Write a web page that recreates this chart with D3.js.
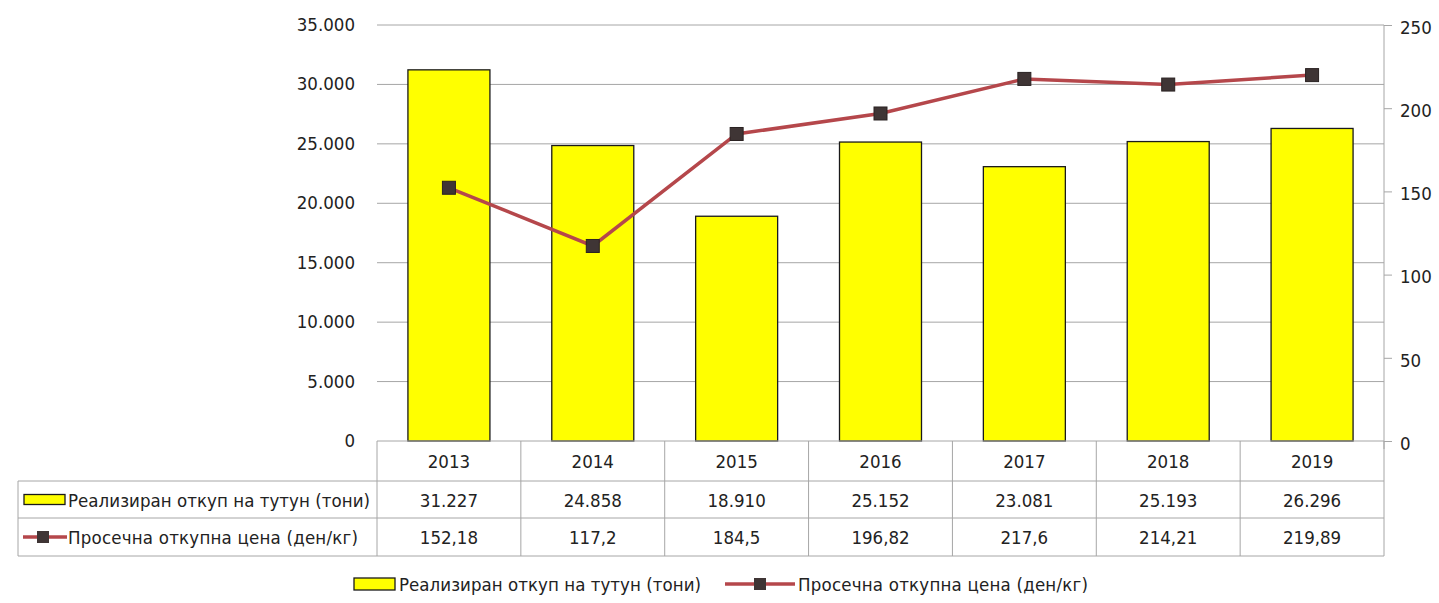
<!DOCTYPE html>
<html><head><meta charset="utf-8">
<script src="https://cdn.jsdelivr.net/npm/d3@7"></script>
<style>body{margin:0;background:#fff}svg{display:block}text{font-family:"DejaVu Sans Condensed","DejaVu Sans",sans-serif;fill:#222}</style>
</head><body>
<script>
const years = ["2013","2014","2015","2016","2017","2018","2019"];
const tonnes = [31227,24858,18910,25152,23081,25193,26296];
const prices = [152.18,117.2,184.5,196.82,217.6,214.21,219.89];
const tonnesLabels = ["31.227","24.858","18.910","25.152","23.081","25.193","26.296"];
const priceLabels = ["152,18","117,2","184,5","196,82","217,6","214,21","219,89"];
const leftTicks = [0,5000,10000,15000,20000,25000,30000,35000];
const rightTicks = [0,50,100,150,200,250];
const seriesNames = ["Реализиран откуп на тутун (тони)","Просечна откупна цена (ден/кг)"];

const W=1439,H=603;
const L=377,R=1384,T=25,B=441;
const svg=d3.select("body").append("svg").attr("width",W).attr("height",H);
const x=d3.scaleBand().domain(years).range([L,R]).paddingInner(0.43).paddingOuter(0.215);
const xc=d3.scaleBand().domain(years).range([L,R]);
const yL=d3.scaleLinear().domain([0,35000]).range([B,T]);
const yR=d3.scaleLinear().domain([0,250]).range([B,T]);
const fmt=v=>d3.format(",")(v).replace(/,/g,".");
const grid="#a6a6a6", fs=18.5;
const nameLen=[302,290];

// gridlines
svg.append("g").selectAll("line").data(leftTicks.filter(d=>d>0)).join("line")
 .attr("x1",L).attr("x2",R).attr("y1",d=>yL(d)).attr("y2",d=>yL(d)).attr("stroke",grid);
// left labels
svg.append("g").selectAll("text").data(leftTicks).join("text")
 .attr("x",355).attr("y",d=>yL(d)+6).attr("text-anchor","end").attr("font-size",fs).text(fmt);
// bars
svg.append("g").selectAll("rect").data(years).join("rect")
 .attr("x",d=>x(d)).attr("width",x.bandwidth()).attr("y",(d,i)=>yL(tonnes[i])).attr("height",(d,i)=>B-yL(tonnes[i]))
 .attr("fill","#ffff00").attr("stroke","#1a1a1a").attr("stroke-width",1.3);
// right axis
const ra=svg.append("g").attr("transform",`translate(${R},0)`).call(d3.axisRight(yR).tickValues(rightTicks).tickSize(8).tickPadding(8));
ra.select(".domain").attr("stroke",grid).attr("d",`M0,${T}V${B+8}`);
ra.selectAll(".tick line").attr("stroke",grid);
ra.selectAll(".tick text").attr("font-size",fs).attr("font-family",'"DejaVu Sans Condensed","DejaVu Sans",sans-serif').attr("fill","#222").attr("dy","0.45em");
// line
const lc="#b5474b";
svg.append("path").datum(prices).attr("fill","none").attr("stroke",lc).attr("stroke-width",3.5)
 .attr("d",d3.line().x((d,i)=>xc(years[i])+xc.bandwidth()/2).y(d=>yR(d)));
svg.append("g").selectAll("rect").data(prices).join("rect")
 .attr("x",(d,i)=>xc(years[i])+xc.bandwidth()/2-6.5).attr("y",d=>yR(d)-6.5).attr("width",13).attr("height",13)
 .attr("fill","#3f3535").attr("stroke","#2a2222");

// data table
const r0=B,r1=481,r2=518,r3=556,TL=18;
const tg=svg.append("g").attr("stroke",grid).attr("fill","none");
tg.append("line").attr("x1",L).attr("x2",R).attr("y1",r0).attr("y2",r0);
[r1,r2,r3].forEach(y=>tg.append("line").attr("x1",TL).attr("x2",R).attr("y1",y).attr("y2",y));
tg.append("line").attr("x1",TL).attr("x2",TL).attr("y1",r1).attr("y2",r3);
tg.selectAll(".v").data(years.concat(["end"])).join("line")
 .attr("x1",(d,i)=>i<years.length?xc(d):R).attr("x2",(d,i)=>i<years.length?xc(d):R).attr("y1",r0).attr("y2",r3);
const cell=(arr,yy)=>svg.append("g").selectAll("text").data(arr).join("text")
 .attr("x",(d,i)=>xc(years[i])+xc.bandwidth()/2).attr("y",yy).attr("text-anchor","middle").attr("font-size",fs).text(d=>d);
cell(years,(r0+r1)/2+7);
cell(tonnesLabels,(r1+r2)/2+7);
cell(priceLabels,(r2+r3)/2+7);
// table legend keys
svg.append("rect").attr("x",24).attr("y",(r1+r2)/2-5).attr("width",41).attr("height",10).attr("fill","#ffff00").attr("stroke","#1a1a1a").attr("stroke-width",1.3);
svg.append("text").attr("x",68).attr("y",(r1+r2)/2+7).attr("font-size",fs).attr("textLength",nameLen[0]).attr("lengthAdjust","spacing").text(seriesNames[0]);
svg.append("line").attr("x1",23).attr("x2",67).attr("y1",(r2+r3)/2).attr("y2",(r2+r3)/2).attr("stroke",lc).attr("stroke-width",3.5);
svg.append("rect").attr("x",37).attr("y",(r2+r3)/2-6).attr("width",12).attr("height",12).attr("fill","#3f3535");
svg.append("text").attr("x",68).attr("y",(r2+r3)/2+7).attr("font-size",fs).attr("textLength",nameLen[1]).attr("lengthAdjust","spacing").text(seriesNames[1]);

// bottom legend
const ly=584;
svg.append("rect").attr("x",354).attr("y",ly-6).attr("width",41).attr("height",12).attr("fill","#ffff00").attr("stroke","#1a1a1a").attr("stroke-width",1.3);
svg.append("text").attr("x",399).attr("y",ly+7).attr("font-size",fs).attr("textLength",nameLen[0]).attr("lengthAdjust","spacing").text(seriesNames[0]);
svg.append("line").attr("x1",725).attr("x2",795).attr("y1",ly).attr("y2",ly).attr("stroke",lc).attr("stroke-width",3.5);
svg.append("rect").attr("x",754).attr("y",ly-6).attr("width",12).attr("height",12).attr("fill","#3f3535");
svg.append("text").attr("x",798).attr("y",ly+7).attr("font-size",fs).attr("textLength",nameLen[1]).attr("lengthAdjust","spacing").text(seriesNames[1]);
</script>
</body></html>
